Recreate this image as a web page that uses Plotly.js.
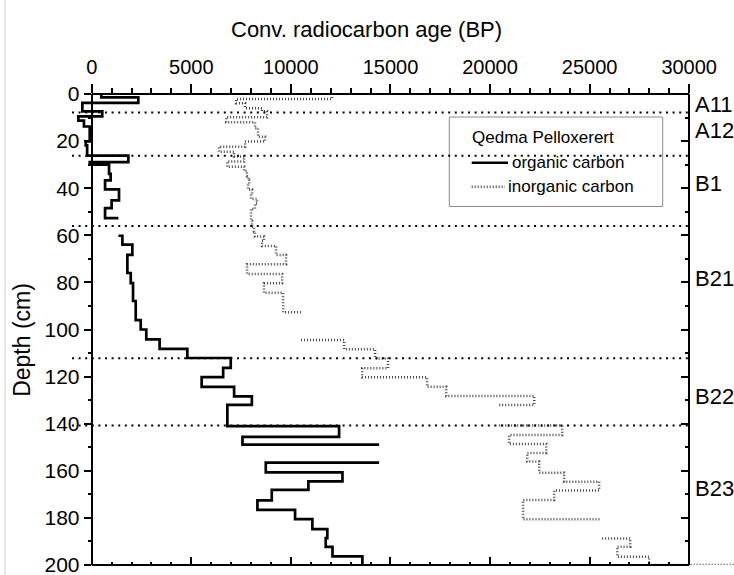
<!DOCTYPE html>
<html>
<head>
<meta charset="utf-8">
<script src="https://cdn.plot.ly/plotly-3.0.1.min.js"></script>
<style>html,body{margin:0;padding:0;background:#fff;}</style>
</head>
<body>
<div id="chart" style="width:734px;height:575px;"></div>
<script>
// ---- data (age in years BP, top depth in cm; null = gap in the profile) ----
const organicAge = [480, 2340, -470, 530, -670, -390, -100, -300, -230, 1840, -100, 870, 950, 670, 1370, 1000, 670, 1340, null,
  1340, 1540, 2040, 1790, 1960, 2075, 2210, 2460, 2740, 3410, 4800, 6980, 6600, 5520, 7150, 8040, 6810, 12420, 7570, 14430, null,
  14430, 8740, 12590, 10880, 9040, 8320, 10210, 11080, 11830, 11750, 12090, 13590, 13590];
const organicDepth = [0, 1.4, 3.8, 7.4, 9.5, 11.3, 13.8, 20.1, 21.8, 26.2, 28.9, 30.0, 33.9, 36.7, 40.5, 45.2, 48.5, 52.7, null,
  60.2, 60.2, 64.0, 68.3, 76.0, 80.3, 87.9, 96.0, 100.0, 104.2, 108.2, 112.1, 116.3, 120.2, 124.4, 128.4, 132.0, 141.0, 145.6, 148.9, null,
  156.5, 156.5, 160.7, 164.5, 168.1, 172.6, 176.6, 180.5, 184.8, 188.6, 192.3, 196.3, 200];

const inorganicAge = [12070, 7250, 7700, 8550, 8800, 6750, 8200, 8350, 8700, 7700, 6390, 7150, 7650, 6800, 7650, 7800, 7850, 7900, 7850,
  8050, 8000, 8300, 8200, 8000, 8050, 8150, 8200, 8650, 8550, 9260, 9760, 7800, 9560, 8650, 9610, 10510, null,
  10510, 12670, 14230, 14880, 13580, 16840, 17800, 22220, 20460, null,
  20460, 23620, 20960, 22820, 21870, 22470, 23720, 25480, 23220, 21660, 25580, null,
  25630, 27040, 26390, 27990, 33000];
const inorganicDepth = [0, 2.1, 3.9, 6.0, 7.3, 9.9, 12.0, 14.5, 18.1, 20.2, 22.4, 24.5, 26.5, 28.7, 30.9, 32.7, 34.8, 36.5, 38.3,
  40.6, 42.5, 44.6, 46.5, 48.8, 53.9, 56.3, 58.4, 60.5, 62.3, 64.5, 68.4, 72.3, 76.4, 80.4, 84.4, 92.7, null,
  104.5, 104.5, 108.4, 112.3, 116.5, 120.3, 124.3, 128.2, 132.1, null,
  140.8, 140.8, 144.8, 148.6, 152.4, 156.1, 160.8, 164.6, 168.4, 172.4, 180.6, null,
  188.7, 188.7, 192.2, 196.5, 200];

const seriesNames = ['organic carbon', 'inorganic carbon'];
const legendTitle = 'Qedma Pelloxerert';

const horizonBoundaries = [7.9, 26.2, 56.0, 112.2, 140.8];
const horizonNames = ['A11', 'A12', 'B1', 'B21', 'B22', 'B23'];
const horizonLabelDepths = [4.5, 15.5, 37.8, 78.5, 128.5, 167.5];

const xTickVals = [0, 5000, 10000, 15000, 20000, 25000, 30000];
const xTickText = ['0', '5000', '10000', '15000', '20000', '25000', '30000'];
const yTickVals = [0, 20, 40, 60, 80, 100, 120, 140, 160, 180, 200];
const yTickText = ['0', '20', '40', '60', '80', '100', '120', '140', '160', '180', '200'];

// ---- styling / layout helpers ----
const FONT = '"Liberation Sans", Arial, sans-serif';
const W = 734, H = 575, ML = 72, MT = 94.3, MB = 10;
const PW = W - ML, PH = H - MT - MB;
const xRange = [-990, 32250];
const yRange = [200, 0];
const xMax = 30000;
const xSpan = xRange[1] - xRange[0];
const fx = v => (v - xRange[0]) / xSpan;
const px2x = p => (p - ML) / PW;          // pixel -> paper x
const px2y = p => 1 - (p - MT) / PH;      // pixel -> paper y

const xMinor = [];
for (let v = 1000; v < xMax; v += 1000) if (v % 5000 !== 0) xMinor.push(v);
const yMinor = [];
for (let v = 10; v < 200; v += 20) yMinor.push(v);

const organicStyle = {shape: 'vh', color: '#000', width: 2.7};
const inorganicStyle = {shape: 'vh', color: '#444', width: 2.5, dash: '1px,2px'};

const traces = [
  {x: organicAge, y: organicDepth, mode: 'lines', name: seriesNames[0], connectgaps: false,
   line: organicStyle, hoverinfo: 'skip', showlegend: false},
  {x: inorganicAge, y: inorganicDepth, mode: 'lines', name: seriesNames[1], connectgaps: false,
   line: inorganicStyle, hoverinfo: 'skip', showlegend: false},
  {x: [null], y: [null], xaxis: 'x2', yaxis: 'y2', showlegend: false, hoverinfo: 'skip', mode: 'lines'}
];

const tickCommon = {tickwidth: 2, tickcolor: '#000', showgrid: false, zeroline: false, automargin: false, fixedrange: true};

const shapes = [
  // top and bottom frame (axis 0..30000)
  {type: 'line', xref: 'x', yref: 'paper', x0: 0, x1: xMax, y0: 1, y1: 1, line: {color: '#000', width: 2}},
  {type: 'line', xref: 'x', yref: 'paper', x0: 0, x1: xMax, y0: 0, y1: 0, line: {color: '#000', width: 2}},
  // legend frame
  {type: 'rect', xref: 'paper', yref: 'paper', x0: px2x(449.3), x1: px2x(662.7), y0: px2y(206.7), y1: px2y(117.3),
   line: {color: '#8a8a8a', width: 1}, fillcolor: 'rgba(0,0,0,0)'},
  // legend line samples
  {type: 'line', xref: 'paper', yref: 'paper', x0: px2x(471.7), x1: px2x(508), y0: px2y(163), y1: px2y(163),
   line: {color: organicStyle.color, width: organicStyle.width}},
  {type: 'line', xref: 'paper', yref: 'paper', x0: px2x(471.7), x1: px2x(505), y0: px2y(187), y1: px2y(187),
   line: {color: inorganicStyle.color, width: inorganicStyle.width, dash: inorganicStyle.dash}},
  // faint page edge at the left
  {type: 'line', xref: 'paper', yref: 'paper', x0: px2x(5), x1: px2x(5), y0: px2y(575), y1: px2y(0),
   line: {color: '#cccccc', width: 1}}
];
horizonBoundaries.forEach(d => shapes.push({
  type: 'line', xref: 'x', yref: 'y', x0: xRange[0], x1: xMax, y0: d, y1: d,
  line: {color: '#000', width: 2, dash: '2px,4.6px'}
}));

const annotations = horizonNames.map((n, i) => ({
  text: n, xref: 'paper', x: fx(xMax) + 0.006, xanchor: 'left', yref: 'y', y: horizonLabelDepths[i], yanchor: 'middle',
  showarrow: false, font: {family: FONT, size: 22, color: '#000'}
}));
annotations.push(
  {text: 'Conv. radiocarbon age (BP)', xref: 'paper', yref: 'paper', x: px2x(366), y: px2y(30),
   xanchor: 'center', yanchor: 'middle', showarrow: false, font: {family: FONT, size: 22, color: '#000'}},
  {text: 'Depth (cm)', xref: 'paper', yref: 'paper', x: px2x(22), y: px2y(340), textangle: -90,
   xanchor: 'center', yanchor: 'middle', showarrow: false, font: {family: FONT, size: 23, color: '#000'}},
  {text: legendTitle, xref: 'paper', yref: 'paper', x: px2x(470), y: px2y(138),
   xanchor: 'left', yanchor: 'middle', showarrow: false, font: {family: FONT, size: 17, color: '#000'}},
  {text: seriesNames[0], xref: 'paper', yref: 'paper', x: px2x(510), y: px2y(163),
   xanchor: 'left', yanchor: 'middle', showarrow: false, font: {family: FONT, size: 17, color: '#000'}},
  {text: seriesNames[1], xref: 'paper', yref: 'paper', x: px2x(506), y: px2y(187),
   xanchor: 'left', yanchor: 'middle', showarrow: false, font: {family: FONT, size: 17, color: '#000'}}
);

const layout = {
  width: W, height: H,
  margin: {l: ML, r: 0, t: MT, b: MB, pad: 0},
  paper_bgcolor: '#fff', plot_bgcolor: 'rgba(0,0,0,0)',
  font: {family: FONT, color: '#000'},
  showlegend: false,
  xaxis: Object.assign({}, tickCommon, {
    range: xRange, side: 'top', anchor: 'y', showline: false,
    tickmode: 'array', tickvals: xTickVals, ticktext: xTickText, ticks: 'outside', ticklen: 9,
    tickfont: {family: FONT, size: 20, color: '#000'}, ticklabeloverflow: 'allow', ticklabelstandoff: 2,
    minor: {tickmode: 'array', tickvals: xMinor, ticks: 'outside', ticklen: 5, tickwidth: 2, tickcolor: '#000', showgrid: false}
  }),
  xaxis2: Object.assign({}, tickCommon, {
    range: xRange, overlaying: 'x', side: 'bottom', anchor: 'y', showline: false,
    tickmode: 'array', tickvals: xTickVals, ticks: 'inside', ticklen: 8, showticklabels: false,
    minor: {tickmode: 'array', tickvals: xMinor, ticks: 'inside', ticklen: 3, tickwidth: 2, tickcolor: '#000', showgrid: false}
  }),
  yaxis: Object.assign({}, tickCommon, {
    range: yRange, anchor: 'free', position: fx(0), side: 'left',
    showline: true, linewidth: 2, linecolor: '#000',
    tickmode: 'array', tickvals: yTickVals, ticktext: yTickText, ticks: 'outside', ticklen: 7,
    tickfont: {family: FONT, size: 21, color: '#000'}, ticklabeloverflow: 'allow',
    minor: {tickmode: 'array', tickvals: yMinor, ticks: 'outside', ticklen: 3, tickwidth: 2, tickcolor: '#000', showgrid: false}
  }),
  yaxis2: Object.assign({}, tickCommon, {
    range: yRange, overlaying: 'y', anchor: 'free', position: fx(xMax), side: 'right',
    showline: true, linewidth: 2, linecolor: '#000',
    tickmode: 'array', tickvals: yTickVals, ticks: 'inside', ticklen: 7, showticklabels: false,
    minor: {tickmode: 'array', tickvals: yMinor, ticks: 'inside', ticklen: 3, tickwidth: 2, tickcolor: '#000', showgrid: false}
  }),
  shapes: shapes,
  annotations: annotations
};

Plotly.newPlot('chart', traces, layout, {displayModeBar: false, staticPlot: true});
</script>
</body>
</html>
